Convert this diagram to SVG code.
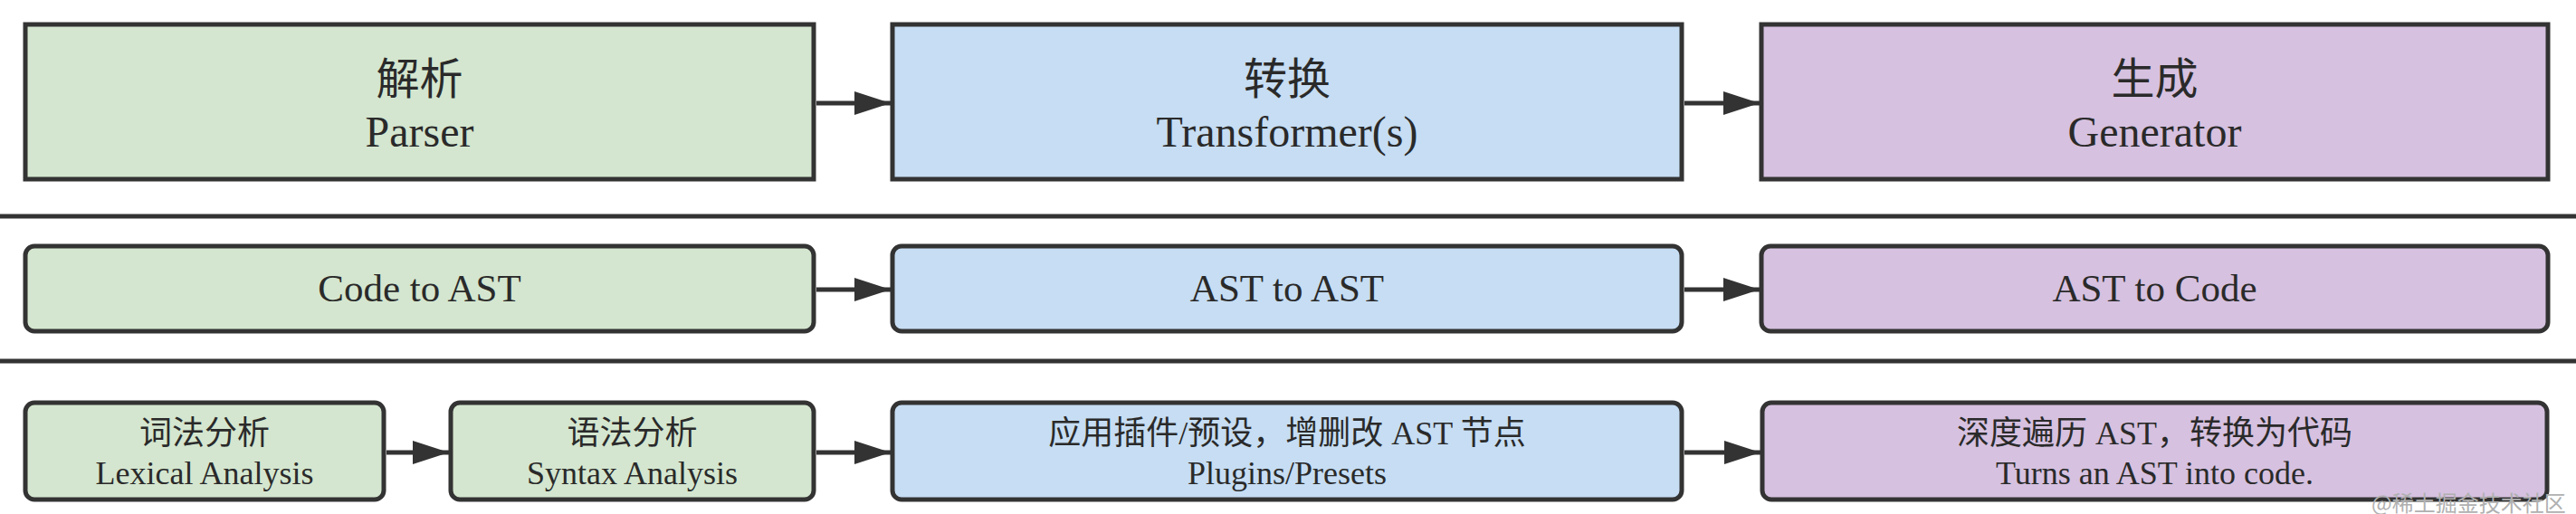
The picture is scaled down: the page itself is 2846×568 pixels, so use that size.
<svg xmlns="http://www.w3.org/2000/svg" width="2846" height="568" viewBox="0 0 2846 568">
<style>
.box{stroke:#333;stroke-width:5}
.g{fill:#d4e6cf}
.b{fill:#c6ddf3}
.p{fill:#d6c1e0}
.t{font-family:"Liberation Serif","Noto Sans CJK SC",serif;fill:#2a2a2a;text-anchor:middle}
.l1{font-size:48px}
.l2{font-size:43px}
.l3{font-size:36px}
.conn{stroke:#333;stroke-width:5;fill:none}
.div{stroke:#333;stroke-width:5}
</style>
<defs>
<marker id="arr" markerUnits="userSpaceOnUse" markerWidth="41" markerHeight="26" refX="40" refY="13" orient="auto">
<path d="M0,0 L40,13 L0,26 Z" fill="#333"/>
</marker>
</defs>
<rect width="2846" height="568" fill="#fff"/>
<g id="dividers">
<line class="div" x1="0" y1="239" x2="2846" y2="239"/>
<line class="div" x1="0" y1="399" x2="2846" y2="399"/>
</g>
<g id="parser">
<rect class="box g" x="28" y="27" width="871" height="171"/>
<text class="t l1" x="463.5" y="104">解析</text>
<text class="t l1" x="463.5" y="162">Parser</text>
</g>
<g id="transformer">
<rect class="box b" x="986" y="27" width="872" height="171"/>
<text class="t l1" x="1422" y="104">转换</text>
<text class="t l1" x="1422" y="162">Transformer(s)</text>
</g>
<g id="generator">
<rect class="box p" x="1946" y="27" width="869" height="171"/>
<text class="t l1" x="2380.5" y="104">生成</text>
<text class="t l1" x="2380.5" y="162">Generator</text>
</g>
<g id="code-to-ast">
<rect class="box g" x="28" y="272" width="871" height="94" rx="10"/>
<text class="t l2" x="463.5" y="333">Code to AST</text>
</g>
<g id="ast-to-ast">
<rect class="box b" x="986" y="272" width="872" height="94" rx="10"/>
<text class="t l2" x="1422" y="333">AST to AST</text>
</g>
<g id="ast-to-code">
<rect class="box p" x="1946" y="272" width="869" height="94" rx="10"/>
<text class="t l2" x="2380.5" y="333">AST to Code</text>
</g>
<g id="lexical">
<rect class="box g" x="28" y="445" width="396" height="107" rx="10"/>
<text class="t l3" x="226" y="491">词法分析</text>
<text class="t l3" x="226" y="535">Lexical Analysis</text>
</g>
<g id="syntax">
<rect class="box g" x="498" y="445" width="401" height="107" rx="10"/>
<text class="t l3" x="698.5" y="491">语法分析</text>
<text class="t l3" x="698.5" y="535">Syntax Analysis</text>
</g>
<g id="plugins">
<rect class="box b" x="986" y="445" width="872" height="107" rx="10"/>
<text class="t l3" x="1422" y="491">应用插件/预设，增删改 AST 节点</text>
<text class="t l3" x="1422" y="535">Plugins/Presets</text>
</g>
<g id="codegen">
<rect class="box p" x="1947" y="445" width="867" height="107" rx="10"/>
<text class="t l3" x="2380.5" y="491">深度遍历 AST，转换为代码</text>
<text class="t l3" x="2380.5" y="535">Turns an AST into code.</text>
</g>
<g id="connectors">
<line class="conn" x1="902" y1="114" x2="984" y2="114" marker-end="url(#arr)"/>
<line class="conn" x1="1861" y1="114" x2="1944" y2="114" marker-end="url(#arr)"/>
<line class="conn" x1="902" y1="320" x2="984" y2="320" marker-end="url(#arr)"/>
<line class="conn" x1="1861" y1="320" x2="1944" y2="320" marker-end="url(#arr)"/>
<line class="conn" x1="427" y1="500" x2="496" y2="500" marker-end="url(#arr)"/>
<line class="conn" x1="902" y1="500" x2="984" y2="500" marker-end="url(#arr)"/>
<line class="conn" x1="1861" y1="500" x2="1945" y2="500" marker-end="url(#arr)"/>
</g>
<g id="watermark">
<text x="2620" y="565" font-family="'Noto Sans CJK SC','Noto Sans',sans-serif" font-size="24" fill="#b0b0b0">@稀土掘金技术社区</text>
</g>
</svg>
